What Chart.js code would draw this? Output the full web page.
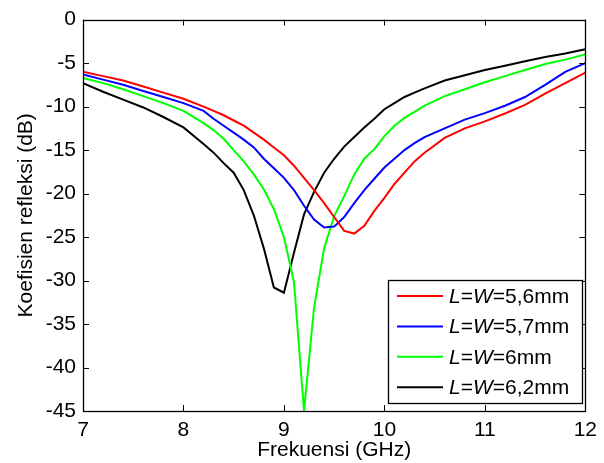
<!DOCTYPE html>
<html>
<head>
<meta charset="utf-8">
<script src="https://cdn.jsdelivr.net/npm/chart.js@4/dist/chart.umd.min.js"></script>
<style>
    html, body { margin: 0; padding: 0; background: #fff; }
    #wrap { width: 604px; height: 463px; }
</style>
</head>
<body>
<div id="wrap"><canvas id="s11Chart" width="604" height="463"></canvas></div>
<script>
// ── Data: reflection coefficient (dB) vs frequency (GHz) ──────────────────
const freqs = [7.0, 7.2, 7.4, 7.6, 7.8, 8.0, 8.2, 8.3, 8.4, 8.5, 8.6, 8.7, 8.8, 8.9,
    9.0, 9.1, 9.2, 9.3, 9.4, 9.5, 9.6, 9.7, 9.8, 9.9, 10.0, 10.1, 10.2, 10.3, 10.4,
    10.6, 10.8, 11.0, 11.2, 11.4, 11.6, 11.8, 12.0];

const s11_56 = [-6.0, -6.5, -7.0, -7.7, -8.4, -9.1, -10.0, -10.5, -11.0, -11.6, -12.2, -13.0, -13.8, -14.7,
    -15.6, -16.8, -18.2, -19.6, -21.1, -22.7, -24.3, -24.6, -23.7, -22.0, -20.5, -18.9, -17.6, -16.3, -15.3,
    -13.6, -12.5, -11.7, -10.8, -9.8, -8.5, -7.3, -6.1];

const s11_57 = [-6.3, -6.9, -7.5, -8.2, -8.9, -9.6, -10.5, -11.4, -12.2, -13.0, -13.8, -14.7, -16.0, -17.1,
    -18.2, -19.6, -21.4, -23.0, -23.9, -23.8, -22.7, -21.1, -19.6, -18.3, -17.0, -16.0, -15.0, -14.2, -13.5,
    -12.5, -11.5, -10.75, -9.9, -8.9, -7.5, -6.0, -5.0];

const s11_60 = [-6.7, -7.3, -8.0, -8.8, -9.6, -10.5, -11.9, -12.7, -13.7, -15.0, -16.3, -17.8, -19.5, -21.8,
    -25.0, -30.2, -45.0, -33.1, -26.3, -22.6, -20.3, -17.8, -16.0, -14.9, -13.4, -12.2, -11.3, -10.6, -9.9,
    -8.8, -8.0, -7.2, -6.5, -5.8, -5.1, -4.6, -4.0];

const s11_62 = [-7.3, -8.3, -9.2, -10.1, -11.2, -12.4, -14.3, -15.3, -16.5, -17.6, -19.6, -22.5, -26.3, -30.8,
    -31.4, -26.8, -22.4, -19.8, -17.6, -16.0, -14.6, -13.5, -12.4, -11.4, -10.3, -9.6, -8.9, -8.4, -7.9,
    -7.0, -6.4, -5.8, -5.3, -4.8, -4.3, -3.9, -3.4];

const sizes = ['5,6', '5,7', '6', '6,2'];
const colors = ['#ff0000', '#0000ff', '#00ff00', '#000000'];
const seriesList = [s11_56, s11_57, s11_60, s11_62];

const xTicks = [7, 8, 9, 10, 11, 12];
const yTicks = [0, -5, -10, -15, -20, -25, -30, -35, -40, -45];

const FONT = '"Liberation Sans", Arial, sans-serif';

// ── Inner tick marks on all four sides + axes box ─────────────────────────
const boxTicks = {
    id: 'boxTicks',
    afterDatasetsDraw(chart) {
        const { ctx, chartArea: a, scales: { x, y } } = chart;
        const len = 6;
        ctx.save();
        ctx.strokeStyle = '#000';
        ctx.lineWidth = 1;
        ctx.beginPath();
        xTicks.forEach((v) => {
            const px = Math.round(x.getPixelForValue(v)) + 0.5;
            ctx.moveTo(px, a.bottom); ctx.lineTo(px, a.bottom - len);
            ctx.moveTo(px, a.top); ctx.lineTo(px, a.top + len);
        });
        yTicks.forEach((v) => {
            const py = Math.round(y.getPixelForValue(v)) + 0.5;
            ctx.moveTo(a.left, py); ctx.lineTo(a.left + len, py);
            ctx.moveTo(a.right, py); ctx.lineTo(a.right - len, py);
        });
        ctx.stroke();
        ctx.lineWidth = 1.3;
        ctx.strokeRect(Math.round(a.left) + 0.5, Math.round(a.top) + 0.5,
            Math.round(a.right - a.left), Math.round(a.bottom - a.top));
        ctx.restore();
    },
};

// ── Legend box with italic L and W ────────────────────────────────────────
const boxLegend = {
    id: 'boxLegend',
    afterDraw(chart) {
        const { ctx } = chart;
        const bx = 388, by = 280, bw = 194, bh = 123;
        const rowH = 30.4, firstRow = 296;
        ctx.save();
        ctx.fillStyle = '#fff';
        ctx.fillRect(bx, by, bw, bh);
        ctx.strokeStyle = '#000';
        ctx.lineWidth = 1.3;
        ctx.strokeRect(bx + 0.5, by + 0.5, bw, bh);

        ctx.textBaseline = 'middle';
        chart.data.datasets.forEach((ds, i) => {
            const ry = firstRow + i * rowH;
            ctx.strokeStyle = ds.borderColor;
            ctx.lineWidth = 2;
            ctx.beginPath();
            ctx.moveTo(397, ry); ctx.lineTo(443, ry);
            ctx.stroke();

            const parts = [
                { t: 'L', it: true }, { t: '=', it: false },
                { t: 'W', it: true }, { t: '=' + sizes[i] + 'mm', it: false },
            ];
            let tx = 449;
            ctx.fillStyle = '#000';
            parts.forEach((p) => {
                ctx.font = (p.it ? 'italic ' : '') + '21px ' + FONT;
                ctx.fillText(p.t, tx, ry + 1);
                tx += ctx.measureText(p.t).width;
            });
        });
        ctx.restore();
    },
};

new Chart(document.getElementById('s11Chart'), {
    type: 'line',
    data: {
        datasets: seriesList.map((vals, i) => ({
            label: 'L=W=' + sizes[i] + 'mm',
            data: freqs.map((f, k) => ({ x: f, y: vals[k] })),
            borderColor: colors[i],
            borderWidth: 2,
            pointRadius: 0,
            tension: 0,
            fill: false,
        })),
    },
    options: {
        responsive: false,
        animation: false,
        layout: { padding: { top: 18, right: 18, left: 0, bottom: 0 } },
        plugins: { legend: { display: false }, tooltip: { enabled: false } },
        scales: {
            x: {
                type: 'linear',
                min: 7, max: 12,
                afterFit: (s) => { s.height = 52; },
                afterBuildTicks: (s) => { s.ticks = xTicks.map((v) => ({ value: v })); },
                grid: { display: false, drawTicks: false },
                border: { display: false },
                ticks: { color: '#000', padding: 7, font: { family: FONT, size: 21 } },
                title: {
                    display: true, text: 'Frekuensi (GHz)', color: '#000',
                    font: { family: FONT, size: 21 }, padding: { top: 0, bottom: 0 },
                },
            },
            y: {
                type: 'linear',
                min: -45, max: 0,
                afterFit: (s) => { s.width = 83; },
                afterBuildTicks: (s) => { s.ticks = yTicks.map((v) => ({ value: v })); },
                grid: { display: false, drawTicks: false },
                border: { display: false },
                ticks: { color: '#000', padding: 7, font: { family: FONT, size: 21 } },
                title: {
                    display: true, text: 'Koefisien refleksi (dB)', color: '#000',
                    font: { family: FONT, size: 21 }, padding: { top: 14, bottom: 0 },
                },
            },
        },
    },
    plugins: [boxTicks, boxLegend],
});
</script>
</body>
</html>
